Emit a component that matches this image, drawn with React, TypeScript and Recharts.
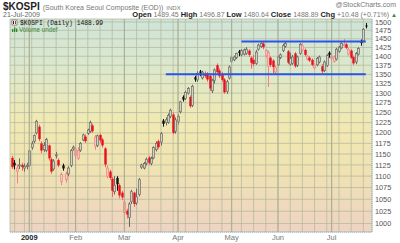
import React from 'react'
import { ComposedChart, Bar, XAxis, YAxis, CartesianGrid, ReferenceLine } from 'recharts'

// trading days shown on the chart
const dates = [
  '2008-12-19', '2008-12-22', '2008-12-23', '2008-12-24', '2008-12-26', '2008-12-29', '2008-12-30',
  '2009-01-02', '2009-01-05', '2009-01-06', '2009-01-07', '2009-01-08', '2009-01-09',
  '2009-01-12', '2009-01-13', '2009-01-14', '2009-01-15', '2009-01-16',
  '2009-01-19', '2009-01-20', '2009-01-21', '2009-01-22', '2009-01-23',
  '2009-01-28', '2009-01-29', '2009-01-30',
  '2009-02-02', '2009-02-03', '2009-02-04', '2009-02-05', '2009-02-06',
  '2009-02-09', '2009-02-10', '2009-02-11', '2009-02-12', '2009-02-13',
  '2009-02-16', '2009-02-17', '2009-02-18', '2009-02-19', '2009-02-20',
  '2009-02-23', '2009-02-24', '2009-02-25', '2009-02-26', '2009-02-27',
  '2009-03-02', '2009-03-03', '2009-03-04', '2009-03-05', '2009-03-06',
  '2009-03-09', '2009-03-10', '2009-03-11', '2009-03-12', '2009-03-13',
  '2009-03-16', '2009-03-17', '2009-03-18', '2009-03-19', '2009-03-20',
  '2009-03-23', '2009-03-24', '2009-03-25', '2009-03-26', '2009-03-27',
  '2009-03-30', '2009-03-31',
  '2009-04-01', '2009-04-02', '2009-04-03',
  '2009-04-06', '2009-04-07', '2009-04-08', '2009-04-09', '2009-04-10',
  '2009-04-13', '2009-04-14', '2009-04-15', '2009-04-16', '2009-04-17',
  '2009-04-20', '2009-04-21', '2009-04-22', '2009-04-23', '2009-04-24',
  '2009-04-27', '2009-04-28', '2009-04-29', '2009-04-30',
  '2009-05-04', '2009-05-06', '2009-05-07', '2009-05-08',
  '2009-05-11', '2009-05-12', '2009-05-13', '2009-05-14', '2009-05-15',
  '2009-05-18', '2009-05-19', '2009-05-20', '2009-05-21', '2009-05-22',
  '2009-05-25', '2009-05-26', '2009-05-27', '2009-05-28', '2009-05-29',
  '2009-06-01', '2009-06-02', '2009-06-03', '2009-06-04', '2009-06-05',
  '2009-06-08', '2009-06-09', '2009-06-10', '2009-06-11', '2009-06-12',
  '2009-06-15', '2009-06-16', '2009-06-17', '2009-06-18', '2009-06-19',
  '2009-06-22', '2009-06-23', '2009-06-24', '2009-06-25', '2009-06-26',
  '2009-06-29', '2009-06-30',
  '2009-07-01', '2009-07-02', '2009-07-03',
  '2009-07-06', '2009-07-07', '2009-07-08', '2009-07-09', '2009-07-10',
  '2009-07-13', '2009-07-14', '2009-07-15', '2009-07-16', '2009-07-17',
  '2009-07-20', '2009-07-21',
]

const opens = [
  1141, 1130, 1110, 1123, 1125, 1118, 1121,
  1124, 1165, 1180, 1200, 1215, 1175, 1160, 1158, 1170, 1138, 1116, 1146, 1136, 1088, 1124, 1092, 1105, 1124, 1162,
  1147, 1140, 1159, 1183, 1191, 1199, 1204, 1218, 1168, 1170, 1195, 1184, 1163, 1100, 1110, 1094, 1066, 1096, 1080, 1064,
  1022, 1026, 1012, 1045, 1064, 1042, 1060, 1120, 1118, 1128, 1142, 1128, 1141, 1160, 1180, 1178, 1230, 1225, 1226, 1240, 1245, 1204,
  1228, 1252, 1290, 1286, 1300, 1290, 1268, 1342, 1335, 1358, 1340, 1350, 1352, 1346, 1306, 1334, 1375, 1360, 1350, 1336, 1304, 1340,
  1386, 1390, 1396, 1414, 1404, 1406, 1408, 1416, 1396, 1390, 1380, 1420, 1428, 1436, 1402, 1372, 1396, 1388, 1356,
  1376, 1396, 1416, 1428, 1414, 1378, 1380, 1408, 1375, 1408, 1418, 1418, 1392, 1396, 1390, 1368, 1376, 1384, 1372, 1360, 1374, 1410,
  1394, 1386, 1392, 1414, 1424, 1430, 1434, 1406, 1416, 1398, 1384, 1406, 1444, 1444, 1489.45,
]
const highs = [
  1146, 1136, 1126, 1140, 1130, 1128, 1130,
  1160, 1180, 1196, 1232, 1220, 1180, 1178, 1188, 1172, 1142, 1138, 1155, 1140, 1108, 1128, 1110, 1122, 1162, 1170,
  1165, 1166, 1178, 1198, 1196, 1210, 1230, 1222, 1195, 1196, 1198, 1188, 1166, 1124, 1114, 1098, 1100, 1100, 1084, 1068,
  1048, 1030, 1044, 1070, 1066, 1073, 1096, 1128, 1132, 1142, 1146, 1144, 1168, 1180, 1184, 1202, 1234, 1238, 1248, 1260, 1250, 1238,
  1246, 1280, 1294, 1306, 1316, 1294, 1322, 1346, 1358, 1362, 1360, 1358, 1356, 1350, 1338, 1366, 1380, 1366, 1356, 1340, 1335, 1374,
  1400, 1402, 1410, 1418, 1420, 1422, 1426, 1420, 1400, 1404, 1418, 1436, 1440, 1442, 1420, 1416, 1400, 1392, 1374,
  1402, 1408, 1436, 1442, 1418, 1410, 1404, 1412, 1402, 1438, 1436, 1422, 1404, 1400, 1394, 1380, 1398, 1402, 1378, 1388, 1406, 1414,
  1406, 1402, 1424, 1430, 1440, 1450, 1438, 1424, 1420, 1402, 1412, 1426, 1448, 1482, 1496.87,
]
const lows = [
  1116, 1115, 1084, 1116, 1112, 1110, 1115,
  1120, 1160, 1175, 1196, 1180, 1152, 1155, 1154, 1135, 1105, 1112, 1140, 1120, 1080, 1112, 1086, 1100, 1120, 1158,
  1140, 1136, 1155, 1180, 1176, 1195, 1200, 1200, 1160, 1166, 1176, 1165, 1120, 1095, 1092, 1055, 1060, 1068, 1052, 1048,
  1018, 1010, 993, 1040, 1034, 1038, 1056, 1116, 1115, 1124, 1125, 1124, 1138, 1156, 1162, 1170, 1215, 1218, 1222, 1236, 1196, 1198,
  1220, 1248, 1278, 1282, 1296, 1262, 1264, 1330, 1330, 1345, 1336, 1340, 1330, 1306, 1300, 1325, 1352, 1340, 1330, 1298, 1298, 1336,
  1382, 1386, 1392, 1400, 1400, 1402, 1404, 1398, 1366, 1372, 1376, 1416, 1424, 1420, 1396, 1316, 1370, 1353, 1350,
  1372, 1392, 1412, 1424, 1378, 1374, 1376, 1368, 1370, 1404, 1414, 1400, 1388, 1384, 1372, 1364, 1372, 1380, 1352, 1356, 1370, 1396,
  1390, 1382, 1388, 1410, 1420, 1426, 1420, 1402, 1392, 1376, 1378, 1402, 1430, 1440, 1480.64,
]
const closes = [
  1120, 1124, 1118, 1125, 1120, 1122, 1124,
  1157, 1174, 1194, 1228, 1185, 1158, 1170, 1184, 1140, 1110, 1134, 1148, 1124, 1104, 1117, 1105, 1118, 1158, 1166,
  1162, 1158, 1175, 1195, 1180, 1207, 1225, 1204, 1190, 1193, 1182, 1170, 1126, 1118, 1096, 1068, 1080, 1082, 1058, 1054,
  1044, 1018, 1040, 1066, 1040, 1055, 1092, 1125, 1128, 1138, 1130, 1140, 1165, 1175, 1166, 1198, 1222, 1232, 1243, 1256, 1200, 1232,
  1240, 1277, 1283, 1302, 1312, 1266, 1318, 1336, 1352, 1354, 1356, 1345, 1336, 1312, 1334, 1362, 1356, 1345, 1335, 1302, 1330, 1370,
  1396, 1398, 1408, 1409, 1416, 1418, 1420, 1404, 1382, 1378, 1412, 1432, 1436, 1426, 1416, 1410, 1376, 1370, 1368,
  1398, 1404, 1430, 1436, 1382, 1394, 1398, 1372, 1398, 1434, 1430, 1404, 1400, 1388, 1376, 1374, 1394, 1398, 1358, 1384, 1402, 1404,
  1400, 1398, 1420, 1426, 1436, 1434, 1424, 1420, 1396, 1380, 1408, 1422, 1438, 1478, 1488.89,
]

const yTicks = [
  1000, 1025, 1050, 1075, 1100, 1125, 1150, 1175, 1200, 1225, 1250,
  1275, 1300, 1325, 1350, 1375, 1400, 1425, 1450, 1475, 1500,
]
const yDomain = [983, 1509]

const monthStarts = ['2009-01-02', '2009-02-02', '2009-03-02', '2009-04-01', '2009-05-04', '2009-06-01', '2009-07-01']
const monthLabels = ['2009', 'Feb', 'Mar', 'Apr', 'May', 'Jun', 'Jul']
const weekStarts = [
  '2008-12-22', '2008-12-29', '2009-01-05', '2009-01-12', '2009-01-19', '2009-01-28',
  '2009-02-02', '2009-02-09', '2009-02-16', '2009-02-23', '2009-03-02', '2009-03-09',
  '2009-03-16', '2009-03-23', '2009-03-30', '2009-04-06', '2009-04-13', '2009-04-20',
  '2009-04-27', '2009-05-04', '2009-05-11', '2009-05-18', '2009-05-25', '2009-06-01',
  '2009-06-08', '2009-06-15', '2009-06-22', '2009-06-29', '2009-07-06', '2009-07-13', '2009-07-20',
]

// hand-drawn trend lines
const support = { level: 1350, from: '2009-03-25' }
const resistance = { level: 1442, from: '2009-05-11' }

const data = dates.map((d, i) => ({
  date: d,
  o: opens[i],
  h: highs[i],
  l: lows[i],
  c: closes[i],
  prev: i > 0 ? closes[i - 1] : opens[i],
  range: [lows[i], highs[i]],
}))

const xTicks = Array.from(new Set([...weekStarts, ...monthStarts])).sort()

const FONT = '"Liberation Sans", Arial, sans-serif'

function Candle(props: any) {
  const { x, y, width, height, payload } = props
  if (!payload || x == null || y == null) return <g />
  const { o, h, l, c, prev } = payload
  const span = Math.log(h) - Math.log(l)
  const py = (v: number) => y + (span > 0 ? (height * (Math.log(h) - Math.log(v))) / span : 0)
  const cx = Math.round(x + width / 2) + 0.5
  const up = c >= prev
  const hollow = c > o
  const top = py(Math.max(o, c))
  const bot = py(Math.min(o, c))
  const bodyH = Math.max(1, bot - top)
  if (hollow) {
    const edge = up ? '#6a6a64' : '#f08484'
    return (
      <g>
        <line x1={cx} x2={cx} y1={py(h)} y2={py(l)} stroke={edge} strokeWidth={1} />
        <rect x={cx - 1} y={top} width={2} height={bodyH} fill={up ? '#d6d2c2' : '#f6c6c0'} stroke={edge} strokeWidth={0.7} />
      </g>
    )
  }
  const col = up ? '#111' : '#e8101a'
  return (
    <g>
      <line x1={cx} x2={cx} y1={py(h)} y2={py(l)} stroke={up ? '#111' : '#f06060'} strokeWidth={1} />
      <rect x={cx - 1.2} y={top} width={2.4} height={bodyH} fill={col} />
    </g>
  )
}

function MonthTick(props: any) {
  const { x, y, payload } = props
  const k = monthStarts.indexOf(payload.value)
  if (k < 0) return <g />
  return (
    <text
      x={x}
      y={y}
      dy={7}
      textAnchor="middle"
      fontSize={7.5}
      fontFamily={FONT}
      fontWeight={k === 0 ? 'bold' : 'normal'}
      fill={k === 0 ? '#222' : '#777'}
    >
      {monthLabels[k]}
    </text>
  )
}

export default function App() {
  return (
    <div style={{ position: 'absolute', left: 0, top: 0, width: 400, height: 243, background: '#fff' }}>
      <ComposedChart width={400} height={243} data={data} margin={{ top: 19, right: 0, bottom: 0, left: 10 }} barCategoryGap={0}>
        <defs>
          <linearGradient id="kospiBg" x1="0" y1="0" x2="0" y2="1">
            <stop offset="0%" stopColor="#cfe4d9" />
            <stop offset="22%" stopColor="#dbe8cd" />
            <stop offset="48%" stopColor="#f1e9b3" />
            <stop offset="70%" stopColor="#f0e3b2" />
            <stop offset="100%" stopColor="#eed3c3" />
          </linearGradient>
        </defs>
        <CartesianGrid yAxisId="p" stroke="#b4b89e" strokeOpacity={0.75} fill="url(#kospiBg)" fillOpacity={1} />
        <XAxis
          dataKey="date"
          ticks={xTicks}
          interval={0}
          height={11}
          tickSize={0}
          tickMargin={1}
          tick={<MonthTick />}
          tickLine={false}
          axisLine={{ stroke: '#8fb5cc', strokeDasharray: '1 1' }}
          padding={{ left: 1, right: 5 }}
        />
        <YAxis
          yAxisId="p"
          orientation="right"
          scale="log"
          domain={yDomain}
          ticks={yTicks}
          interval={0}
          allowDataOverflow
          width={28}
          tickSize={0}
          tickMargin={3}
          tickLine={false}
          axisLine={{ stroke: '#8fb5cc', strokeDasharray: '1 1' }}
          tick={{ fontSize: 7.3, fontFamily: FONT, fill: '#555' }}
        />
        <YAxis
          yAxisId="l"
          orientation="left"
          scale="log"
          domain={yDomain}
          allowDataOverflow
          width={0}
          tick={false}
          tickLine={false}
          axisLine={{ stroke: '#9dbccf' }}
        />
        {monthStarts.map((m) => (
          <ReferenceLine key={m} yAxisId="p" x={m} stroke="#a3a78c" strokeOpacity={0.8} />
        ))}
        <Bar yAxisId="p" dataKey="range" shape={<Candle />} isAnimationActive={false} />
        <ReferenceLine
          yAxisId="p"
          segment={[{ x: support.from, y: support.level }, { x: dates[dates.length - 1], y: support.level }]}
          stroke="#2a55e6"
          strokeWidth={2}
        />
        <ReferenceLine
          yAxisId="p"
          segment={[{ x: resistance.from, y: resistance.level }, { x: dates[dates.length - 1], y: resistance.level }]}
          stroke="#2a55e6"
          strokeWidth={2}
        />
      </ComposedChart>
      <svg width={400} height={243} style={{ position: 'absolute', left: 0, top: 0, pointerEvents: 'none' }}>
        <text x={3} y={10} fontFamily={FONT}>
          <tspan fontSize={10} fontWeight="bold" fill="#222">$KOSPI</tspan>
          <tspan fontSize={7} fill="#777" dx={3}>(South Korea Seoul Composite (EOD))</tspan>
          <tspan fontSize={6} fill="#777" dx={3}>INDX</tspan>
        </text>
        <text x={396} y={7} fontFamily={FONT} fontSize={7} fill="#777" textAnchor="end">@StockCharts.com</text>
        <text x={3} y={17} fontFamily={FONT} fontSize={7} fill="#666">21-Jul-2009</text>
        <text x={397} y={17} fontFamily={FONT} fontSize={7} fill="#777" textAnchor="end">
          <tspan fontWeight="bold" fill="#222" fontSize={7.5}>Open</tspan>
          <tspan> 1489.45 </tspan>
          <tspan fontWeight="bold" fill="#222" fontSize={7.5}>High</tspan>
          <tspan> 1496.87 </tspan>
          <tspan fontWeight="bold" fill="#222" fontSize={7.5}>Low</tspan>
          <tspan> 1480.64 </tspan>
          <tspan fontWeight="bold" fill="#222" fontSize={7.5}>Close</tspan>
          <tspan> 1488.89 </tspan>
          <tspan fontWeight="bold" fill="#222" fontSize={7.5}>Chg</tspan>
          <tspan> +10.48 (+0.71%) </tspan>
          <tspan fill="#2a8a2a" fontSize={6}>▲</tspan>
        </text>
        <g>
          <rect x={12} y={20} width={5} height={5} fill="#fff" stroke="#555" strokeWidth={0.6} />
          <line x1={13.5} x2={13.5} y1={21} y2={24} stroke="#222" />
          <line x1={15.5} x2={15.5} y1={21} y2={24} stroke="#c22" />
        </g>
        <text x={20} y={25} fontFamily='"Liberation Mono", "DejaVu Sans Mono", monospace' fontSize={6.3} fill="#111">
          $KOSPI (Daily) 1488.99
        </text>
        <g>
          <rect x={12} y={29} width={1.3} height={3} fill="#2c8a2c" />
          <rect x={14} y={27.5} width={1.3} height={4.5} fill="#2c8a2c" />
          <rect x={16} y={28.5} width={1.3} height={3.5} fill="#2c8a2c" />
        </g>
        <text x={19} y={32} fontFamily={FONT} fontSize={6.3} fill="#3a8a3a">Volume undef</text>
      </svg>
    </div>
  )
}
